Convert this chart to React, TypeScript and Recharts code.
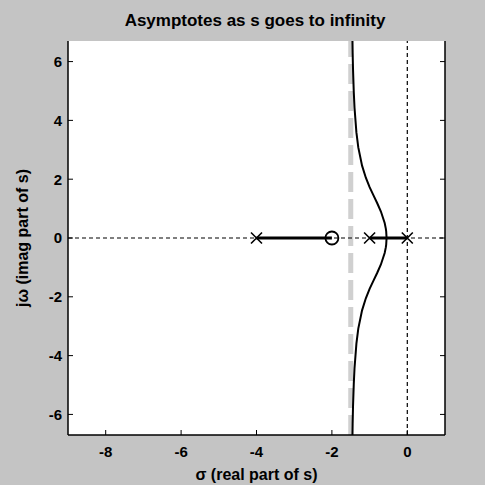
import React from 'react';
import {
  ComposedChart,
  Line,
  Scatter,
  XAxis,
  YAxis,
  ReferenceLine,
  CartesianGrid,
} from 'recharts';

// ---- data ----
const xTicks = [-8, -6, -4, -2, 0];
const yTicks = [-6, -4, -2, 0, 2, 4, 6];
const xDomain = [-9, 1];
const yDomain = [-6.7, 6.7];

// complex branch of the locus (upper half), top -> breakaway
const branchSigma = [-1.462, -1.455, -1.45, -1.44, -1.42, -1.4, -1.35, -1.3, -1.2, -1.1, -1.0, -0.9, -0.8, -0.7, -0.6, -0.57, -0.56, -0.55];
const branchOmega = [7.2, 6.7, 6.3, 5.75, 4.97, 4.43, 3.59, 3.08, 2.46, 2.05, 1.73, 1.46, 1.19, 0.9, 0.51, 0.32, 0.23, 0];

const poleSigma = [0, -1, -4];
const zeroSigma = [-2];
const realSegmentA = [-4, -2];
const realSegmentB = [-1, 0];
const asymptoteSigma = -1.5;

const title = 'Asymptotes as s goes to infinity';
const xLabel = 'σ (real part of s)';
const yLabel = 'jω (imag part of s)';

// ---- derived tables ----
const upper = branchSigma.map((s, i) => ({ x: s, y: branchOmega[i] }));
const lower = branchSigma.map((s, i) => ({ x: s, y: -branchOmega[i] })).reverse();
const branchData = [...upper, ...lower.slice(1)];
const segA = realSegmentA.map((s) => ({ x: s, y: 0 }));
const segB = realSegmentB.map((s) => ({ x: s, y: 0 }));
const poles = poleSigma.map((s) => ({ x: s, y: 0 }));
const zeros = zeroSigma.map((s) => ({ x: s, y: 0 }));

const FONT = '"Liberation Sans", Arial, sans-serif';
const tickStyle = { fontFamily: FONT, fontSize: 15, fontWeight: 700, fill: '#000' };
const labelStyle = { fontFamily: FONT, fontSize: 16, fontWeight: 700, fill: '#000' };

const XMark = (props: any) => {
  const { cx, cy } = props;
  const r = 5.5;
  return (
    <path
      d={`M${cx - r},${cy - r}L${cx + r},${cy + r}M${cx + r},${cy - r}L${cx - r},${cy + r}`}
      stroke="#000"
      strokeWidth={1.6}
      fill="none"
    />
  );
};

const OMark = (props: any) => {
  const { cx, cy } = props;
  return <circle cx={cx} cy={cy} r={6.5} stroke="#000" strokeWidth={1.8} fill="none" />;
};

export default function App() {
  return (
    <div
      style={{
        position: 'absolute',
        left: 0,
        top: 0,
        width: 485,
        height: 485,
        background: '#c4c4c4',
        overflow: 'hidden',
      }}
    >
      <div
        style={{
          position: 'absolute',
          left: 0,
          width: 510,
          top: 11,
          textAlign: 'center',
          fontFamily: FONT,
          fontWeight: 700,
          fontSize: 17,
          lineHeight: '20px',
          color: '#000',
        }}
      >
        {title}
      </div>
      <ComposedChart
        width={485}
        height={485}
        margin={{ top: 41, right: 0, bottom: 0, left: 0 }}
        style={{ position: 'absolute', left: 0, top: 0 }}
      >
        <CartesianGrid fill="#fff" fillOpacity={1} horizontal={false} vertical={false} xAxisId="b" yAxisId="l" />
        <XAxis
          xAxisId="b"
          dataKey="x"
          type="number"
          domain={xDomain}
          ticks={xTicks}
          allowDataOverflow
          height={50}
          tickSize={-5}
          tickMargin={16}
          tick={tickStyle}
          axisLine={{ stroke: '#000', strokeWidth: 1.5 }}
          tickLine={{ stroke: '#000' }}
          label={{ value: xLabel, position: 'insideBottom', offset: 5, style: { ...labelStyle } }}
        />
        <XAxis
          xAxisId="t"
          orientation="top"
          dataKey="x"
          type="number"
          domain={xDomain}
          ticks={xTicks}
          allowDataOverflow
          height={0}
          tickSize={-5}
          tickFormatter={() => ''}
          axisLine={{ stroke: '#000', strokeWidth: 1.5 }}
          tickLine={{ stroke: '#000' }}
        />
        <YAxis
          yAxisId="l"
          dataKey="y"
          type="number"
          domain={yDomain}
          ticks={yTicks}
          allowDataOverflow
          width={68}
          tickSize={-5}
          tickMargin={11}
          tick={tickStyle}
          axisLine={{ stroke: '#000', strokeWidth: 1.5 }}
          tickLine={{ stroke: '#000' }}
          label={{
            value: yLabel,
            angle: -90,
            position: 'insideLeft',
            offset: 22,
            style: { ...labelStyle, textAnchor: 'middle' },
          }}
        />
        <YAxis
          yAxisId="r"
          orientation="right"
          dataKey="y"
          type="number"
          domain={yDomain}
          ticks={yTicks}
          allowDataOverflow
          width={40}
          tickSize={-5}
          tickFormatter={() => ''}
          axisLine={{ stroke: '#000', strokeWidth: 1.5 }}
          tickLine={{ stroke: '#000' }}
        />
        <ReferenceLine xAxisId="b" yAxisId="l" x={asymptoteSigma} stroke="#d0d0d0" strokeWidth={5} strokeDasharray="20 7" />
        <ReferenceLine xAxisId="b" yAxisId="l" y={0} stroke="#000" strokeWidth={1.2} strokeDasharray="4 3" />
        <ReferenceLine xAxisId="b" yAxisId="l" x={0} stroke="#000" strokeWidth={1.2} strokeDasharray="4 3" />
        <Line
          xAxisId="b"
          yAxisId="l"
          data={branchData}
          dataKey="y"
          type="linear"
          stroke="#000"
          strokeWidth={2}
          dot={false}
          isAnimationActive={false}
        />
        <Line xAxisId="b" yAxisId="l" data={segA} dataKey="y" type="linear" stroke="#000" strokeWidth={3} dot={false} isAnimationActive={false} />
        <Line xAxisId="b" yAxisId="l" data={segB} dataKey="y" type="linear" stroke="#000" strokeWidth={3} dot={false} isAnimationActive={false} />
        <Scatter xAxisId="b" yAxisId="l" data={poles} dataKey="y" shape={XMark} isAnimationActive={false} />
        <Scatter xAxisId="b" yAxisId="l" data={zeros} dataKey="y" shape={OMark} isAnimationActive={false} />
      </ComposedChart>
    </div>
  );
}
